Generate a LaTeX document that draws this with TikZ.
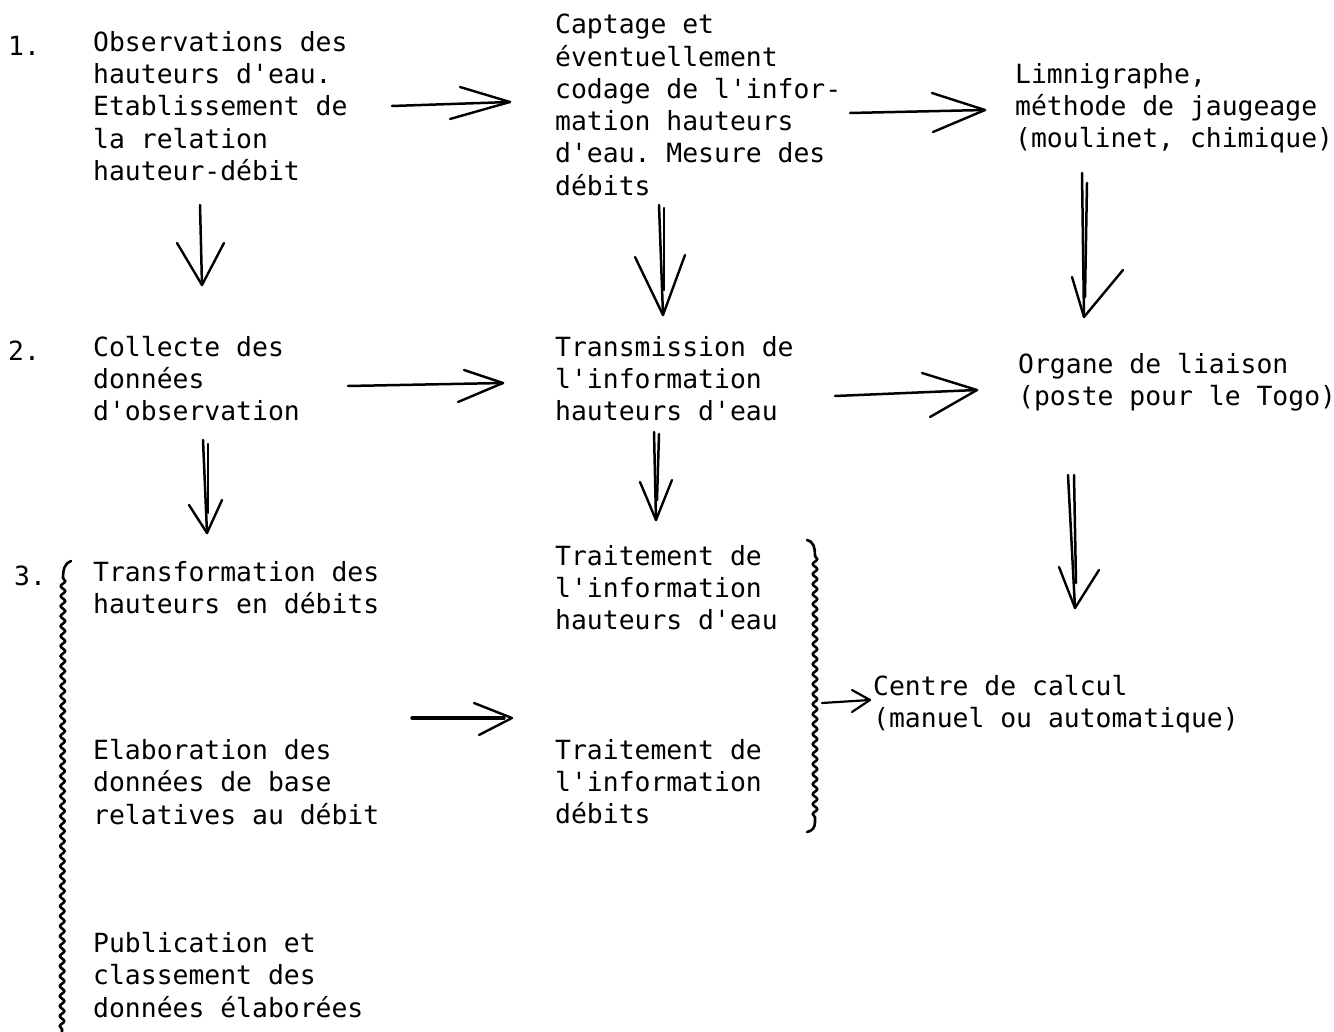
\documentclass[tikz,border=0pt]{standalone}
\usepackage{fontspec}
\setmonofont{DejaVu Sans Mono}
\usetikzlibrary{decorations.pathmorphing,calc}
\begin{document}
\begin{tikzpicture}[x=1pt,y=-1pt,
  txt/.style={anchor=north west,inner sep=0pt,align=left,
    font=\ttfamily\fontsize{26.4}{32.3}\selectfont,
    execute at begin node={\rule{0pt}{24pt}}},
  shaft/.style={line width=2.5pt,line cap=round,line join=round},
  barb/.style={line width=2.4pt,line cap=round,line join=round},
  wavy/.style={line width=2.6pt,decorate,decoration={snake,segment length=10pt,amplitude=2.2pt}},
  hook/.style={line width=2.6pt,line cap=round}]
\fill[white] (0,0) rectangle (1334,1032);
\useasboundingbox (0,0) rectangle (1334,1032);

% ---------- text ----------
\node[txt] (n1) at (8,31) {1.};
\node[txt] (obs) at (93,31) {Observations des\\hauteurs d'eau.\\Etablissement de\\la relation\\hauteur-débit};
\node[txt] (capt) at (555,14) {Captage et\\éventuellement\\codage de l'infor-\\mation hauteurs\\d'eau. Mesure des\\débits};
\node[txt] (limn) at (1015,63) {Limnigraphe,\\méthode de jaugeage\\(moulinet, chimique)};

\node[txt] (n2) at (8,336) {2.};
\node[txt] (coll) at (93,336) {Collecte des\\données\\d'observation};
\node[txt] (trans) at (555,336) {Transmission de\\l'information\\hauteurs d'eau};
\node[txt] (organe) at (1018,353) {Organe de liaison\\(poste pour le Togo)};

\node[txt] (n3) at (14,561) {3.};
\node[txt] (transf) at (93,561) {Transformation des\\hauteurs en débits};
\node[txt] (elab) at (93,739) {Elaboration des\\données de base\\relatives au débit};
\node[txt] (publ) at (93,932) {Publication et\\classement des\\données élaborées};
\node[txt] (trt1) at (555,545) {Traitement de\\l'information\\hauteurs d'eau};
\node[txt] (trt2) at (555,739) {Traitement de\\l'information\\débits};
\node[txt] (centre) at (873,675) {Centre de calcul\\(manuel ou automatique)};

% ---------- horizontal arrows ----------
\coordinate (a1s) at (392,106); \coordinate (a1e) at (510,102);
\draw[shaft] (a1s) -- (a1e);
\draw[barb] (460,87) -- (a1e) -- (450,119);

\coordinate (a2s) at (850,113); \coordinate (a2e) at (985,110);
\draw[shaft] (a2s) -- (a2e);
\draw[barb] (932,93) -- (a2e) -- (933,132);

\coordinate (a3s) at (348,386); \coordinate (a3e) at (503,383);
\draw[shaft] (a3s) -- (a3e);
\draw[barb] (464,370) -- (a3e) -- (458,402);

\coordinate (a4s) at (835,396); \coordinate (a4e) at (977,390);
\draw[shaft] (a4s) -- (a4e);
\draw[barb] (922,373) -- (a4e) -- (930,417);

\coordinate (a5s) at (412,718); \coordinate (a5e) at (512,718);
\draw[shaft,line width=3.4pt] (a5s) -- ($(a5e)+(-8,0)$);
\draw[barb] (474,703) -- (a5e) -- (479,735);

\coordinate (a6s) at (822,703); \coordinate (a6e) at (870,700);
\draw[shaft,line width=2.2pt] (a6s) -- (a6e);
\draw[barb,line width=2.2pt] (852,690) -- (a6e) -- (852,712);

% ---------- vertical arrows ----------
\coordinate (v1s) at (200,205); \coordinate (v1e) at (202,285);
\draw[shaft] (v1s) -- (v1e);
\draw[barb] (177,243) -- (v1e) -- (224,243);

\coordinate (v2s) at (659,205); \coordinate (v2e) at (663,315);
\draw[shaft] (v2s) -- (v2e);
\draw[shaft] ($(v2s)+(5,3)$) -- ($(v2e)+(1,-25)$);
\draw[barb] (635,257) -- (v2e) -- (685,255);

\coordinate (v3s) at (1082,173); \coordinate (v3e) at (1084,317);
\draw[shaft] (v3s) -- (v3e);
\draw[shaft] ($(v3s)+(5,10)$) -- ($(v3e)+(1,-20)$);
\draw[barb] (1072,277) -- (v3e) -- (1123,270);

\coordinate (v4s) at (203,440); \coordinate (v4e) at (207,533);
\draw[shaft] (v4s) -- (v4e);
\draw[shaft] ($(v4s)+(5,4)$) -- ($(v4e)+(1,-20)$);
\draw[barb] (189,505) -- (v4e) -- (222,500);

\coordinate (v5s) at (654,432); \coordinate (v5e) at (656,520);
\draw[shaft] (v5s) -- (v5e);
\draw[shaft] ($(v5s)+(5,2)$) -- ($(v5e)+(1,-20)$);
\draw[barb] (640,482) -- (v5e) -- (672,480);

\coordinate (v6s) at (1068,475); \coordinate (v6e) at (1075,608);
\draw[shaft] (v6s) -- (v6e);
\draw[shaft] ($(v6s)+(6,0)$) -- ($(v6e)+(1,-25)$);
\draw[barb] (1059,567) -- (v6e) -- (1099,570);

% ---------- braces ----------
\draw[hook] (71,561) .. controls (65,563) and (63,569) .. (63,578);
\draw[wavy] (63,578) -- (62,1032);

\draw[hook] (807,540) .. controls (813,541) and (815,547) .. (815,556);
\draw[wavy] (815,556) -- (815,822);
\draw[hook] (815,822) .. controls (815,828) and (812,831) .. (807,832);
\end{tikzpicture}
\end{document}
